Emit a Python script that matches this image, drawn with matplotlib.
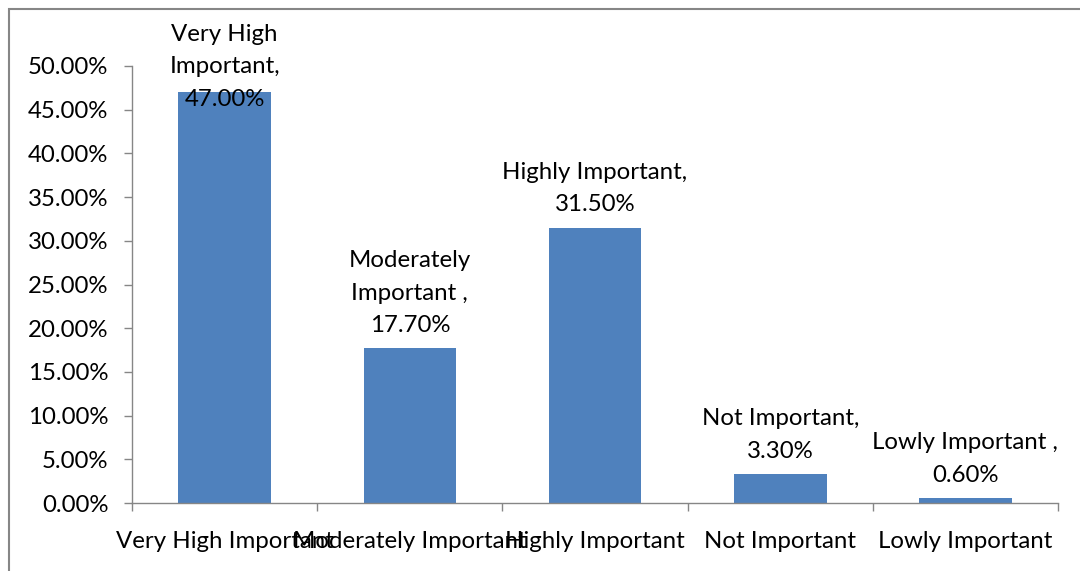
import matplotlib
matplotlib.use("Agg")
import matplotlib.pyplot as plt
from matplotlib.patches import Rectangle
import numpy as np

categories = ["Very High Important", "Moderately Important", "Highly Important",
              "Not Important", "Lowly Important"]
values = [47.00, 17.70, 31.50, 3.30, 0.60]
data_labels = ["Very High\nImportant,\n47.00%", "Moderately\nImportant ,\n17.70%",
               "Highly Important,\n31.50%", "Not Important,\n3.30%",
               "Lowly Important ,\n0.60%"]
yticks = [0, 5, 10, 15, 20, 25, 30, 35, 40, 45, 50]

plt.rcParams['font.family'] = ['Lato', 'DejaVu Sans']
W, H = 1080, 571
fs = 17.3
fig = plt.figure(figsize=(W/100, H/100), dpi=100)
ax = fig.add_axes([132/W, 1-503/H, (1058-132)/W, (503-66)/H])

x = np.arange(len(categories))
ax.bar(x, values, width=0.5, color="#4F81BD", zorder=2)
ax.set_xlim(-0.5, len(categories)-0.5)
ax.set_ylim(0, 50)

axcol = "#868686"
for s in ["top", "right"]:
    ax.spines[s].set_visible(False)
for s in ["left", "bottom"]:
    ax.spines[s].set_color(axcol)
    ax.spines[s].set_linewidth(1.0)

ax.set_yticks(yticks)
ax.set_yticklabels([f"{v:.2f}%" for v in yticks], fontsize=fs, color="#000000")
ax.tick_params(axis="y", length=6, width=1, color=axcol, pad=11)

ax.set_xticks(np.arange(len(categories)+1) - 0.5)
ax.set_xticklabels([])
ax.tick_params(axis="x", which="major", length=6, width=1, color=axcol)
ax.set_xticks(x, minor=True)
ax.set_xticklabels(categories, minor=True, fontsize=fs)
ax.tick_params(axis="x", which="minor", length=0, pad=20)

for xi, v, lab in zip(x, values, data_labels):
    ly = min(v + 1.4, 45.0)
    ax.text(xi, ly, lab, ha="center", va="bottom", fontsize=fs,
            linespacing=1.68, zorder=3)

fig.add_artist(Rectangle((9/W, -0.1), 2, 1.1 - 8.5/H, transform=fig.transFigure,
                         fill=False, edgecolor="#868686", linewidth=1.5))

fig.savefig("out.png", dpi=100)
